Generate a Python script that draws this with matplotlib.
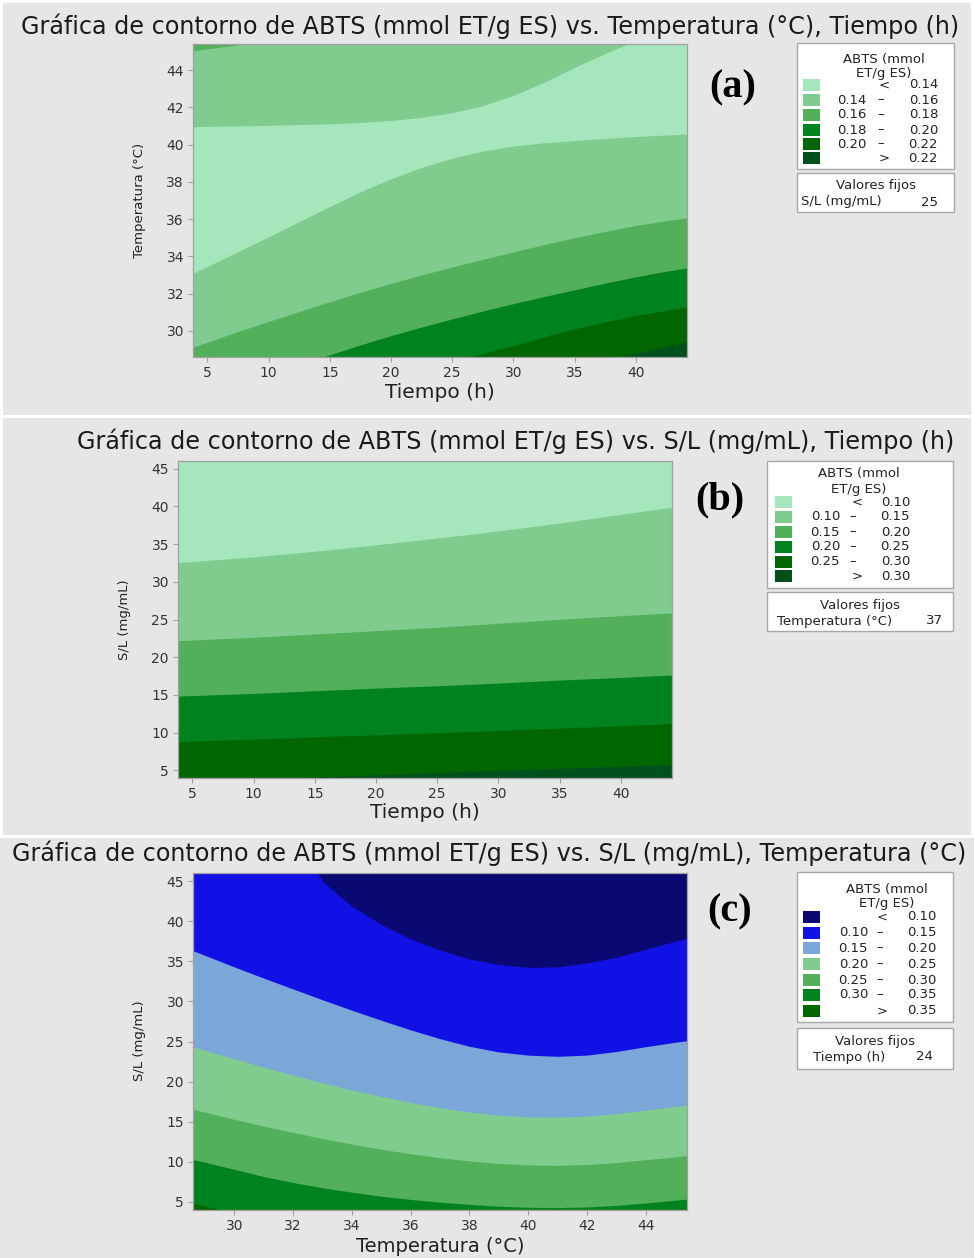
import numpy as np
import matplotlib.pyplot as plt
from matplotlib.patches import Rectangle

W, H = 974, 1258

# ---- panel (a): Temperatura vs Tiempo, S/L fixed at 25
# boundary curves (Temperatura at each Tiempo)
a_t = [3.82, 5, 7.5, 10, 12.5, 15, 17.5, 20, 22.5, 25, 27.5, 30, 32.5, 35, 37.5, 40, 42.5, 44.18]
a_022 = [21.0, 21.5, 22.3, 23.0, 23.7, 24.4, 25.0, 25.6, 26.1, 26.6, 27.05, 27.45, 27.8, 28.12,
         28.45, 28.8, 29.15, 29.42]
a_020 = [24.0, 24.3, 24.9, 25.45, 25.98, 26.5, 27.0, 27.48, 27.93, 28.35, 28.79, 29.21, 29.67,
         30.1, 30.47, 30.82, 31.1, 31.28]
a_018 = [26.2, 26.45, 27.0, 27.6, 28.17, 28.71, 29.24, 29.74, 30.2, 30.64, 31.06, 31.46, 31.84,
         32.2, 32.56, 32.9, 33.2, 33.38]
a_016 = [29.12, 29.39, 29.96, 30.5, 31.04, 31.56, 32.07, 32.55, 33.0, 33.43, 33.84, 34.24, 34.63,
         35.0, 35.34, 35.66, 35.92, 36.07]
a_014_low = [33.09, 33.46, 34.25, 35.05, 35.87, 36.68, 37.47, 38.17, 38.78, 39.27, 39.66, 39.93,
             40.1, 40.22, 40.33, 40.44, 40.52, 40.57]
a_014_up = [40.97, 40.98, 41.01, 41.04, 41.08, 41.12, 41.19, 41.3, 41.47, 41.72, 42.1, 42.65,
            43.35, 44.15, 44.9, 45.6, 46.2, 46.6]
a_016_top = [45.05, 45.15, 45.37, 45.6, 45.8, 46.0, 46.15, 46.3, 46.45, 46.6, 46.9, 47.2, 47.5,
             47.8, 48.1, 48.4, 48.7, 49.0]
a_levels = ["0.14", "0.16", "0.18", "0.20", "0.22"]

# ---- panel (b): S/L vs Tiempo, Temperatura fixed at 37
b_t = [3.82, 10, 15, 20, 25, 30, 35, 40, 44.18]
b_030 = [3.6, 3.85, 4.12, 4.39, 4.70, 5.0, 5.27, 5.54, 5.78]
b_025 = [8.82, 9.13, 9.44, 9.7, 9.97, 10.28, 10.59, 10.9, 11.2]
b_020 = [14.84, 15.2, 15.55, 15.9, 16.21, 16.57, 16.97, 17.32, 17.63]
b_015 = [22.19, 22.64, 23.08, 23.52, 23.97, 24.5, 25.03, 25.51, 25.87]
b_010 = [32.55, 33.3, 34.05, 34.9, 35.8, 36.75, 37.8, 38.95, 39.9]
b_levels = ["0.10", "0.15", "0.20", "0.25", "0.30"]

# ---- panel (c): S/L vs Temperatura, Tiempo fixed at 24
c_T = [28.59, 30, 31, 32, 33, 34, 35, 36, 37, 38, 39, 40, 41, 42, 43, 44, 45, 45.41]
c_035 = [4.85, 3.6, 2.9, 2.3, 1.8, 1.4, 1.0, 0.8, 0.6, 0.5, 0.4, 0.35, 0.35, 0.4, 0.5, 0.7, 0.9, 1.0]
c_030 = [10.29, 9.05, 8.15, 7.4, 6.75, 6.2, 5.7, 5.3, 4.95, 4.68, 4.45, 4.32, 4.28, 4.35, 4.55,
         4.85, 5.2, 5.35]
c_025 = [16.54, 15.29, 14.45, 13.65, 12.9, 12.2, 11.55, 11.0, 10.5, 10.1, 9.8, 9.6, 9.55, 9.65,
         9.9, 10.25, 10.6, 10.79]
c_020 = [24.33, 22.85, 21.8, 20.8, 19.85, 18.95, 18.15, 17.4, 16.75, 16.2, 15.8, 15.6, 15.55,
         15.7, 16.0, 16.45, 16.9, 17.08]
c_015 = [36.33, 34.3, 32.9, 31.55, 30.2, 28.9, 27.65, 26.45, 25.35, 24.4, 23.7, 23.3, 23.15,
         23.3, 23.75, 24.35, 24.9, 25.1]
c_T010 = [32.5, 33, 33.5, 34, 35, 36, 37, 38, 39, 40, 41, 42, 43, 44, 45.41]
c_010 = [48.0, 45.0, 43.4, 41.9, 39.6, 37.8, 36.4, 35.3, 34.6, 34.25, 34.3, 34.8, 35.5, 36.5, 37.9]
c_levels = ["0.10", "0.15", "0.20", "0.25", "0.30", "0.35"]

# minitab-like palette
G1, G2, G3, G4, G5, G6 = "#A6E6BC", "#80CC8E", "#52B05A", "#00821E", "#006600", "#00501C"
NAVY, BLUE, LBLUE = "#0A0873", "#1111E6", "#7BA6D8"

t_range = (3.82, 44.18)
T_range = (28.59, 45.41)
S_range = (3.98, 46.02)

TXT = "#222222"
LFS = 9.5   # legend font size
TFS = 17.2  # title font size


def fx(px):
    return px / W


def fy(py):
    return 1 - py / H


def make_axes(x0, y0, x1, y1):
    return fig.add_axes([fx(x0), fy(y1), (x1 - x0) / W, (y1 - y0) / H])


def fill_panel(ax, base, bounds, colors, xlim, ylim, xticks, yticks):
    # paint each band from its lower boundary upwards, lowest band first
    ax.set_facecolor(base)
    for (xs, ys), col in zip(bounds, colors):
        ax.fill_between(xs, ys, ylim[1] + 20, color=col, linewidth=0)
    ax.set_xlim(xlim)
    ax.set_ylim(ylim)
    ax.set_xticks(xticks)
    ax.set_yticks(yticks)
    for s in ax.spines.values():
        s.set_color("#A0A0A0")
        s.set_linewidth(0.9)
    ax.tick_params(direction="out", length=3.5, width=0.8, color="#A0A0A0",
                   labelcolor="#333333", labelsize=10, pad=3)


def box(x0, y0, x1, y1):
    fig.patches.append(Rectangle((fx(x0), fy(y1)), (x1 - x0) / W, (y1 - y0) / H,
                                 transform=fig.transFigure, facecolor="white",
                                 edgecolor="#A8A8A8", linewidth=1.0, zorder=1))


def legend(lbox, title_cx, title_y, rows_y, sw_x, lo_r, dash_x, sym_x, hi_r,
           levels, colors, fixbox, fix_name, fix_val, fix_x0, fix_x1):
    box(*lbox)
    fig.text(fx(title_cx), fy(title_y), "ABTS (mmol", ha="center", va="center",
             fontsize=LFS, color=TXT)
    fig.text(fx(title_cx), fy(title_y + 15), "ET/g ES)", ha="center", va="center",
             fontsize=LFS, color=TXT)
    n = len(levels)
    for i, (ry, col) in enumerate(zip(rows_y, colors)):
        fig.patches.append(Rectangle((fx(sw_x), fy(ry + 6)), 17 / W, 12 / H,
                                     transform=fig.transFigure, facecolor=col,
                                     edgecolor="none", zorder=2))
        if i == 0:
            fig.text(fx(sym_x), fy(ry), "<", ha="center", va="center", fontsize=LFS, color=TXT)
            fig.text(fx(hi_r), fy(ry), levels[0], ha="right", va="center", fontsize=LFS, color=TXT)
        elif i == n:
            fig.text(fx(sym_x), fy(ry), ">", ha="center", va="center", fontsize=LFS, color=TXT)
            fig.text(fx(hi_r), fy(ry), levels[-1], ha="right", va="center", fontsize=LFS, color=TXT)
        else:
            fig.text(fx(lo_r), fy(ry), levels[i - 1], ha="right", va="center", fontsize=LFS, color=TXT)
            fig.text(fx(dash_x), fy(ry), "–", ha="center", va="center", fontsize=LFS, color=TXT)
            fig.text(fx(hi_r), fy(ry), levels[i], ha="right", va="center", fontsize=LFS, color=TXT)
    fx0, fy0, fx1, fy1 = fixbox
    box(*fixbox)
    fig.text(fx((fx0 + fx1) / 2), fy(fy0 + 13), "Valores fijos", ha="center", va="center",
             fontsize=LFS, color=TXT)
    fig.text(fx(fix_x0), fy(fy0 + 29), fix_name, ha="left", va="center", fontsize=LFS, color=TXT)
    fig.text(fx(fix_x1), fy(fy0 + 29), fix_val, ha="right", va="center", fontsize=LFS, color=TXT)


fig = plt.figure(figsize=(W / 100, H / 100), dpi=100)
fig.patch.set_facecolor("white")
for (x0, y0, x1, y1) in [(3, 3, 971, 415), (3, 418, 971, 835), (0, 838, 974, 1258)]:
    fig.patches.append(Rectangle((fx(x0), fy(y1)), (x1 - x0) / W, (y1 - y0) / H,
                                 transform=fig.transFigure, facecolor="#E6E6E6",
                                 edgecolor="none", zorder=-5))

# panel (a)
ax = make_axes(193, 44, 687, 357)
fill_panel(ax, G6,
           [(a_t, a_022), (a_t, a_020), (a_t, a_018), (a_t, a_016),
            (a_t, a_014_low), (a_t, a_014_up), (a_t, a_016_top)],
           [G5, G4, G3, G2, G1, G2, G3],
           t_range, T_range, range(5, 45, 5), range(30, 46, 2))
fig.text(fx(490), fy(26), "Gráfica de contorno de ABTS (mmol ET/g ES) vs. Temperatura (°C), Tiempo (h)",
         ha="center", va="center", fontsize=TFS, color="#1a1a1a")
fig.text(fx(440), fy(392), "Tiempo (h)", ha="center", va="center", fontsize=14.5, color=TXT)
fig.text(fx(140), fy(200), "Temperatura (°C)", ha="center", va="center", rotation=90,
         fontsize=9.5, color=TXT)
fig.text(fx(733), fy(88), "(a)", ha="center", va="center", fontsize=29, fontweight="bold",
         family="Liberation Serif")
legend((797, 43, 954, 169), 884, 59, [85, 100, 115, 130, 144, 158], 803,
       867, 881, 884, 938, a_levels, [G1, G2, G3, G4, G5, G6],
       (797, 173, 954, 212), "S/L (mg/mL)", "25", 801, 938)

# panel (b)
ax = make_axes(178, 461, 672, 778)
fill_panel(ax, G6,
           [(b_t, b_030), (b_t, b_025), (b_t, b_020), (b_t, b_015), (b_t, b_010)],
           [G5, G4, G3, G2, G1],
           t_range, S_range, range(5, 45, 5), range(5, 46, 5))
fig.text(fx(516), fy(441), "Gráfica de contorno de ABTS (mmol ET/g ES) vs. S/L (mg/mL), Tiempo (h)",
         ha="center", va="center", fontsize=TFS, color="#1a1a1a")
fig.text(fx(425), fy(813), "Tiempo (h)", ha="center", va="center", fontsize=14.5, color=TXT)
fig.text(fx(125), fy(620), "S/L (mg/mL)", ha="center", va="center", rotation=90,
         fontsize=9.5, color=TXT)
fig.text(fx(720), fy(500), "(b)", ha="center", va="center", fontsize=29, fontweight="bold",
         family="Liberation Serif")
legend((767, 461, 953, 588), 859, 474, [502, 517, 532, 547, 562, 576], 775,
       840, 853, 857, 910, b_levels, [G1, G2, G3, G4, G5, G6],
       (767, 592, 953, 631), "Temperatura (°C)", "37", 777, 943)

# panel (c)
ax = make_axes(193, 873, 687, 1210)
fill_panel(ax, G5,
           [(c_T, c_035), (c_T, c_030), (c_T, c_025), (c_T, c_020), (c_T, c_015), (c_T010, c_010)],
           [G4, G3, G2, LBLUE, BLUE, NAVY],
           T_range, S_range, range(30, 46, 2), range(5, 46, 5))
fig.text(fx(489), fy(853), "Gráfica de contorno de ABTS (mmol ET/g ES) vs. S/L (mg/mL), Temperatura (°C)",
         ha="center", va="center", fontsize=TFS, color="#1a1a1a")
fig.text(fx(440), fy(1246), "Temperatura (°C)", ha="center", va="center", fontsize=14, color=TXT)
fig.text(fx(140), fy(1041), "S/L (mg/mL)", ha="center", va="center", rotation=90,
         fontsize=9.5, color=TXT)
fig.text(fx(730), fy(912), "(c)", ha="center", va="center", fontsize=29, fontweight="bold",
         family="Liberation Serif")
legend((797, 872, 953, 1022), 887, 889, [917, 933, 948, 964, 980, 995, 1011], 803,
       868, 880, 882, 937, c_levels, [NAVY, BLUE, LBLUE, G2, G3, G4, G5],
       (797, 1028, 953, 1069), "Tiempo (h)", "24", 813, 933)

fig.savefig("out.png", dpi=100)
